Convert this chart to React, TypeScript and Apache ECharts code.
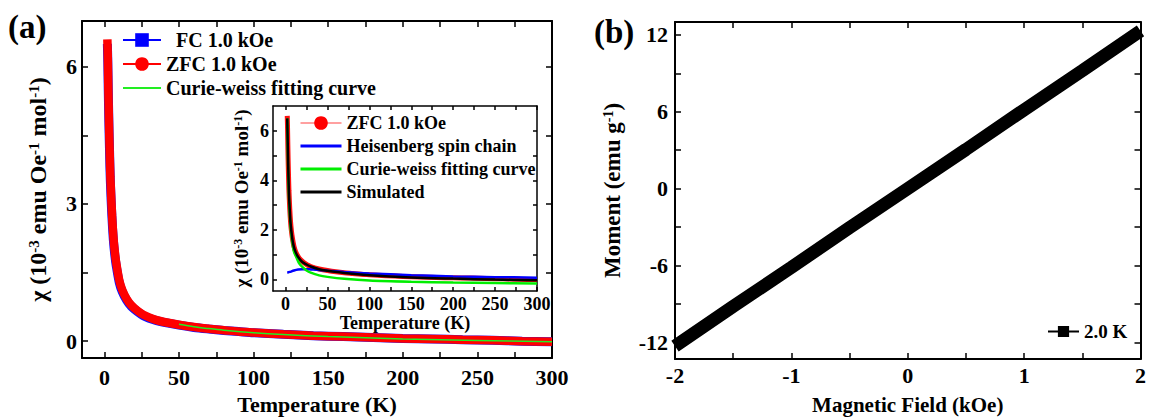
import React, { useEffect, useRef } from "react";
import * as echarts from "echarts";

const FONT = '"Liberation Serif", "Times New Roman", serif';

// ---------- Panel (a) main data ----------
const zfcT = [2, 2.3, 2.6, 3, 3.5, 4, 5, 6, 7, 8, 10, 12, 15, 18, 22, 26, 30, 35, 40, 50, 60, 70, 80, 90, 100, 120, 140, 160, 180, 200, 220, 240, 260, 280, 300];
const zfcChi = [6.6, 6.2, 5.6, 4.9, 4.2, 3.6, 2.85, 2.3, 1.95, 1.7, 1.33, 1.12, 0.92, 0.79, 0.67, 0.58, 0.52, 0.46, 0.42, 0.36, 0.31, 0.27, 0.24, 0.21, 0.19, 0.15, 0.12, 0.1, 0.08, 0.06, 0.05, 0.03, 0.02, 0.0, -0.01];
const fcT = [2, 2.3, 2.6, 3, 3.5, 4, 5, 6, 7, 8, 10, 12, 15, 18, 22, 26, 30, 35, 40, 50, 60, 70, 80, 90, 100, 120, 140, 160, 180, 200, 220, 240, 260, 280, 300];
const fcChi = [6.5, 6.1, 5.5, 4.8, 4.1, 3.5, 2.75, 2.22, 1.88, 1.64, 1.28, 1.08, 0.89, 0.76, 0.65, 0.56, 0.5, 0.45, 0.41, 0.35, 0.3, 0.265, 0.235, 0.21, 0.185, 0.15, 0.12, 0.1, 0.08, 0.06, 0.05, 0.03, 0.02, 0.0, -0.01];
const cwMainT = [50, 60, 70, 80, 100, 120, 150, 200, 250, 300];
const cwMainChi = [0.37, 0.315, 0.275, 0.24, 0.185, 0.145, 0.1, 0.05, 0.015, -0.015];

// ---------- Panel (a) inset data ----------
const simT = [2, 3, 4, 5, 6, 8, 10, 12, 15, 20, 25, 30, 40, 50, 70, 100, 150, 200, 250, 300];
const simChi = [6.5, 4.8, 3.5, 2.8, 2.25, 1.65, 1.3, 1.1, 0.9, 0.7, 0.6, 0.52, 0.41, 0.35, 0.26, 0.17, 0.08, 0.03, -0.01, -0.04];
const cwInsetT = [2, 3, 4, 5, 6, 7, 8, 10, 13, 16, 20, 25, 30, 40, 50, 70, 100, 150, 200, 250, 300];
const cwInsetChi = [6.5, 4.5, 3.3, 2.6, 2.1, 1.75, 1.5, 1.12, 0.88, 0.66, 0.5, 0.36, 0.27, 0.16, 0.1, 0.02, -0.05, -0.1, -0.13, -0.15, -0.17];
const heisT = [2, 5, 10, 15, 20, 25, 30, 40, 50, 70, 100, 150, 200, 250, 300];
const heisChi = [0.27, 0.3, 0.36, 0.4, 0.41, 0.41, 0.4, 0.38, 0.35, 0.3, 0.24, 0.17, 0.12, 0.09, 0.07];

// ---------- Panel (b) data ----------
const fieldH = [-2, -1.5, -1, -0.5, 0, 0.5, 1, 1.5, 2];
const moment = [-12.3, -9.2, -6.15, -3.05, 0, 3.05, 6.15, 9.2, 12.3];

// ---------- Ticks ----------
const tempTicks = [0, 25, 50, 75, 100, 125, 150, 175, 200, 225, 250, 275, 300];
const tempLabels = [0, 50, 100, 150, 200, 250, 300];
const chiTicks = [0, 1.5, 3, 4.5, 6];
const chiLabels = [0, 3, 6];
const insetChiTicks = [0, 1, 2, 3, 4, 5, 6];
const insetChiLabels = [0, 2, 4, 6];
const fieldTicks = [-2, -1.5, -1, -0.5, 0, 0.5, 1, 1.5, 2];
const fieldLabels = [-2, -1, 0, 1, 2];
const momentTicks = [-12, -9, -6, -3, 0, 3, 6, 9, 12];
const momentLabels = [-12, -6, 0, 6, 12];

const zip = (a: number[], b: number[]) => a.map((v, i) => [v, b[i]]);

const txt = (size: number) => ({
  fontFamily: FONT,
  fontWeight: "bold" as const,
  fontSize: size,
  color: "#000",
});

function axis(o: any) {
  const {
    grid, min, max, pos, ticks, labels, lw, tickLen, fs, margin, name, nameGap, nameStyle,
  } = o;
  return {
    type: "value",
    gridIndex: grid,
    min,
    max,
    position: pos,
    axisLine: { show: true, onZero: false, lineStyle: { color: "#000", width: lw } },
    axisTick: {
      show: true,
      inside: true,
      length: tickLen,
      lineStyle: { color: "#000", width: 1.5 },
      customValues: ticks,
    },
    axisLabel: labels
      ? { show: true, customValues: labels, margin, ...txt(fs) }
      : { show: false },
    splitLine: { show: false },
    name: name || "",
    nameLocation: "middle",
    nameGap: nameGap || 0,
    nameTextStyle: nameStyle || txt(fs || 12),
    silent: true,
  };
}

const richName = (size: number, sup: number) => ({
  ...txt(size),
  rich: {
    n: { ...txt(size) },
    s: { ...txt(sup), verticalAlign: "top" },
  },
});

export default function App() {
  const ref = useRef<HTMLDivElement>(null);
  useEffect(() => {
    if (!ref.current) return;
    const chart = echarts.init(ref.current, null, { renderer: "svg" });
    const option: any = {
      animation: false,
      backgroundColor: "#fff",
      grid: [
        { left: 82, top: 21, width: 470, height: 339 },
        { left: 273, top: 106, width: 264, height: 185 },
        { left: 675, top: 22, width: 466, height: 341 },
      ],
      xAxis: [
        axis({ grid: 0, min: -15, max: 300, pos: "bottom", ticks: tempTicks, labels: tempLabels, lw: 2, tickLen: 6, fs: 22, margin: 8, name: "Temperature (K)", nameGap: 34, nameStyle: txt(22) }),
        axis({ grid: 0, min: -15, max: 300, pos: "top", ticks: tempTicks, lw: 2, tickLen: 6 }),
        axis({ grid: 1, min: -15, max: 300, pos: "bottom", ticks: tempTicks, labels: tempLabels, lw: 1.5, tickLen: 4, fs: 18, margin: 4, name: "Temperature (K)", nameGap: 21, nameStyle: txt(18) }),
        axis({ grid: 1, min: -15, max: 300, pos: "top", ticks: tempTicks, lw: 1.5, tickLen: 4 }),
        axis({ grid: 2, min: -2, max: 2, pos: "bottom", ticks: fieldTicks, labels: fieldLabels, lw: 2, tickLen: 6, fs: 22, margin: 5, name: "Magnetic Field (kOe)", nameGap: 35, nameStyle: txt(21) }),
        axis({ grid: 2, min: -2, max: 2, pos: "top", ticks: fieldTicks, lw: 2, tickLen: 6 }),
      ],
      yAxis: [
        axis({ grid: 0, min: -0.37, max: 7, pos: "left", ticks: chiTicks, labels: chiLabels, lw: 2, tickLen: 6, fs: 22, margin: 5, name: "{n|χ (10}{s|-3}{n| emu Oe}{s|-1}{n| mol}{s|-1}{n|)}", nameGap: 32, nameStyle: richName(24, 15) }),
        axis({ grid: 0, min: -0.37, max: 7, pos: "right", ticks: chiTicks, lw: 2, tickLen: 6 }),
        axis({ grid: 1, min: -0.47, max: 7, pos: "left", ticks: insetChiTicks, labels: insetChiLabels, lw: 1.5, tickLen: 4, fs: 18, margin: 4, name: "{n|χ (10}{s|-3}{n| emu Oe}{s|-1}{n| mol}{s|-1}{n|)}", nameGap: 22, nameStyle: richName(19, 12) }),
        axis({ grid: 1, min: -0.47, max: 7, pos: "right", ticks: insetChiTicks, lw: 1.5, tickLen: 4 }),
        axis({ grid: 2, min: -13.3, max: 13, pos: "left", ticks: momentTicks, labels: momentLabels, lw: 2, tickLen: 6, fs: 22, margin: 7, name: "{n|Moment (emu g}{s|-1}{n|)}", nameGap: 51, nameStyle: richName(23, 14) }),
        axis({ grid: 2, min: -13.3, max: 13, pos: "right", ticks: momentTicks, lw: 2, tickLen: 6 }),
      ],
      legend: [
        {
          orient: "vertical",
          left: 122,
          top: 30,
          padding: 0,
          itemWidth: 38,
          itemHeight: 17,
          itemGap: 4,
          selectedMode: false,
          formatter: (name: string) => (name === "FC 1.0 kOe" ? `{p|${name}}` : name),
          textStyle: { ...txt(20), rich: { p: { ...txt(20), padding: [0, 0, 0, 10] } } },
          data: [
            { name: "FC 1.0 kOe", lineStyle: { width: 2, color: "#0000ff" } },
            { name: "ZFC 1.0 kOe", lineStyle: { width: 2, color: "#ff0000" } },
            { name: "Curie-weiss fitting curve", lineStyle: { width: 2, color: "#22ee22" }, itemStyle: { opacity: 0 } },
          ],
        },
        {
          orient: "vertical",
          left: 299,
          top: 114,
          padding: 0,
          itemWidth: 41,
          itemHeight: 17,
          itemGap: 5,
          selectedMode: false,
          textStyle: txt(18),
          data: [
            { name: "ZFC 1.0 kOe", lineStyle: { width: 1.5, color: "#ff8080" }, itemStyle: { color: "#ff0000" } },
            { name: "Heisenberg spin chain", lineStyle: { width: 3, color: "#0000ff" }, itemStyle: { opacity: 0 } },
            { name: "Curie-weiss fitting curve", lineStyle: { width: 3, color: "#00ee00" }, itemStyle: { opacity: 0 } },
            { name: "Simulated", lineStyle: { width: 3, color: "#000" }, itemStyle: { opacity: 0 } },
          ],
        },
        {
          orient: "vertical",
          left: 1047,
          top: 322,
          padding: 0,
          itemWidth: 31,
          itemHeight: 14,
          selectedMode: false,
          textStyle: txt(19),
          data: [{ name: "2.0 K", lineStyle: { width: 2, color: "#000" } }],
        },
      ],
      graphic: [
        { type: "text", left: 8, top: 10, style: { text: "(a)", font: `bold 33px ${FONT}`, fill: "#000" } },
        { type: "text", left: 594, top: 15, style: { text: "(b)", font: `bold 33px ${FONT}`, fill: "#000" } },
      ],
      series: [
        {
          name: "FC 1.0 kOe", type: "line", xAxisIndex: 0, yAxisIndex: 0,
          data: zip(fcT, fcChi), smooth: 0.3, symbol: "rect", showSymbol: false,
          lineStyle: { color: "#1010ff", width: 9 }, itemStyle: { color: "#0000ff" },
        },
        {
          name: "ZFC 1.0 kOe", type: "line", xAxisIndex: 0, yAxisIndex: 0,
          data: zip(zfcT, zfcChi), smooth: 0.3, symbol: "circle", showSymbol: false,
          lineStyle: { color: "#ff0000", width: 8.5 }, itemStyle: { color: "#ff0000" },
        },
        {
          name: "Curie-weiss fitting curve", type: "line", xAxisIndex: 0, yAxisIndex: 0,
          data: zip(cwMainT, cwMainChi), smooth: 0.3, symbol: "none", showSymbol: false,
          lineStyle: { color: "#22ee22", width: 1.5 }, itemStyle: { color: "#22ee22" },
        },
        // inset
        {
          name: "ZFC 1.0 kOe", type: "line", xAxisIndex: 2, yAxisIndex: 2,
          data: zip(zfcT, zfcChi), smooth: 0.3, symbol: "circle", showSymbol: false,
          lineStyle: { color: "#ff1010", width: 5 }, itemStyle: { color: "#ff0000" },
        },
        {
          name: "Heisenberg spin chain", type: "line", xAxisIndex: 2, yAxisIndex: 2,
          data: zip(heisT, heisChi), smooth: 0.3, symbol: "none", showSymbol: false,
          lineStyle: { color: "#0000ff", width: 2.5 }, itemStyle: { color: "#0000ff" },
        },
        {
          name: "Curie-weiss fitting curve", type: "line", xAxisIndex: 2, yAxisIndex: 2,
          data: zip(cwInsetT, cwInsetChi), smooth: 0.3, symbol: "none", showSymbol: false,
          lineStyle: { color: "#00ee00", width: 2.5 }, itemStyle: { color: "#00ee00" },
        },
        {
          name: "Simulated", type: "line", xAxisIndex: 2, yAxisIndex: 2,
          data: zip(simT, simChi), smooth: 0.3, symbol: "none", showSymbol: false,
          lineStyle: { color: "#000", width: 2.5 }, itemStyle: { color: "#000" },
        },
        // panel b
        {
          name: "2.0 K", type: "line", xAxisIndex: 4, yAxisIndex: 4,
          data: zip(fieldH, moment), symbol: "rect", showSymbol: false,
          lineStyle: { color: "#000", width: 13 }, itemStyle: { color: "#000" },
        },
      ],
    };
    chart.setOption(option);
    return () => chart.dispose();
  }, []);
  return (
    <div
      ref={ref}
      style={{ position: "fixed", left: 0, top: 0, width: 1149, height: 420, background: "#fff" }}
    />
  );
}
